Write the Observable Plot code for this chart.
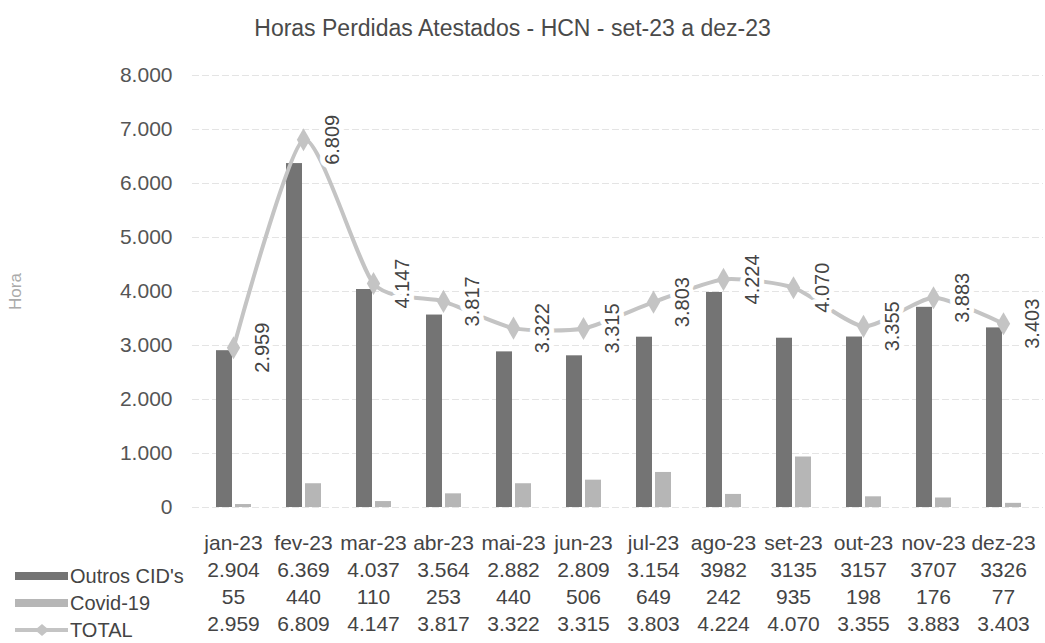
<!DOCTYPE html>
<html>
<head>
<meta charset="utf-8">
<script src="https://cdn.jsdelivr.net/npm/d3@7"></script>
<script src="https://cdn.jsdelivr.net/npm/@observablehq/plot@0.6"></script>
<style>
  html, body { margin: 0; padding: 0; background: #fff; }
  body { width: 1045px; height: 643px; overflow: hidden; font-family: "Liberation Sans", Arial, sans-serif; }
  #title { height: 55px; box-sizing: border-box; padding-top: 17px; padding-right: 20px; text-align: center;
           font-size: 23px; line-height: 1; color: #4a4a4a; }
  #chart svg { display: block; }
</style>
</head>
<body>
<div id="title">Horas Perdidas Atestados - HCN - set-23 a dez-23</div>
<div id="chart"></div>
<script>
const months = ["jan-23","fev-23","mar-23","abr-23","mai-23","jun-23","jul-23","ago-23","set-23","out-23","nov-23","dez-23"];
const outros = [2904, 6369, 4037, 3564, 2882, 2809, 3154, 3982, 3135, 3157, 3707, 3326];
const covid  = [55, 440, 110, 253, 440, 506, 649, 242, 935, 198, 176, 77];
const total  = [2959, 6809, 4147, 3817, 3322, 3315, 3803, 4224, 4070, 3355, 3883, 3403];
const outrosLabels = ["2.904","6.369","4.037","3.564","2.882","2.809","3.154","3982","3135","3157","3707","3326"];
const covidLabels  = ["55","440","110","253","440","506","649","242","935","198","176","77"];
const totalLabels  = ["2.959","6.809","4.147","3.817","3.322","3.315","3.803","4.224","4.070","3.355","3.883","3.403"];
const yTicks = [0,1000,2000,3000,4000,5000,6000,7000,8000];
const seriesNames = ["Outros CID's","Covid-19","TOTAL"];

const data = months.map((m, i) => ({
  month: m, outros: outros[i], covid: covid[i], total: total[i],
  outrosLabel: outrosLabels[i], covidLabel: covidLabels[i], totalLabel: totalLabels[i]
}));

const C_DARK = "#747474", C_LIGHT = "#b6b6b6", C_LINE = "#c4c4c4", C_TEXT = "#444";
const fmt = d3.formatLocale({decimal: ",", thousands: ".", grouping: [3], currency: ["R$", ""]}).format(",");

const legend = (index, scales, values, dims) => {
  const g = d3.create("svg:g");
  const rows = [
    {y: 521, kind: "bar", color: C_DARK},
    {y: 548, kind: "bar", color: C_LIGHT},
    {y: 575, kind: "line", color: C_LINE}
  ];
  rows.forEach((r, i) => {
    if (r.kind === "bar") {
      g.append("rect").attr("x", 15).attr("y", r.y - 4).attr("width", 53).attr("height", 8).attr("fill", r.color);
    } else {
      g.append("line").attr("x1", 15).attr("x2", 68).attr("y1", r.y).attr("y2", r.y)
        .attr("stroke", r.color).attr("stroke-width", 4);
      g.append("path").attr("d", "M35,0L42,-6L49,0L42,6Z").attr("transform", `translate(0,${r.y})`).attr("fill", r.color);
    }
    g.append("text").attr("x", 70).attr("y", r.y).attr("dy", "0.35em").attr("text-anchor", "start")
      .attr("font-size", 20).attr("fill", C_TEXT).text(seriesNames[i]);
  });
  return g.node();
};

const plot = Plot.plot({
  width: 1045,
  height: 588,
  marginTop: 20,
  marginBottom: 136,
  marginLeft: 192,
  marginRight: 2,
  style: {fontFamily: "'Liberation Sans', Arial, sans-serif", color: "#555", background: "#fff"},
  x: {domain: months, padding: 0, axis: null},
  y: {domain: [0, 8000], axis: null},
  marks: [
    Plot.ruleY(yTicks, {stroke: "#e4e4e4", strokeWidth: 1, strokeDasharray: "7,3"}),
    Plot.axisY({ticks: yTicks, tickSize: 0, tickPadding: 20, fontSize: 21, tickFormat: fmt, fill: "#555"}),
    Plot.text(["Hora"], {frameAnchor: "left", textAnchor: "middle", dx: -177, rotate: -90, fontSize: 17, fill: "#aaa"}),
    Plot.barY(data, {x: "month", y: "outros", fill: C_DARK, insetLeft: 18, insetRight: 36}),
    Plot.barY(data, {x: "month", y: "covid", fill: C_LIGHT, insetLeft: 37, insetRight: 17}),
    Plot.line(data, {x: "month", y: "total", stroke: C_LINE, strokeWidth: 4, curve: "cardinal", tension: 0.35}),
    Plot.dot(data, {x: "month", y: "total", symbol: "diamond", r: 7, fill: C_LINE}),
    Plot.text(data, {x: "month", y: "total", text: "totalLabel", rotate: -90, dx: 29, fontSize: 20,
                     fill: C_TEXT, stroke: "white", strokeWidth: 10}),
    Plot.text(data, {x: "month", text: "month", frameAnchor: "bottom", dy: 42, fontSize: 21, fill: C_TEXT}),
    Plot.text(data, {x: "month", text: "outrosLabel", frameAnchor: "bottom", dy: 69, fontSize: 21, fill: C_TEXT}),
    Plot.text(data, {x: "month", text: "covidLabel", frameAnchor: "bottom", dy: 96, fontSize: 21, fill: C_TEXT}),
    Plot.text(data, {x: "month", text: "totalLabel", frameAnchor: "bottom", dy: 123, fontSize: 21, fill: C_TEXT}),
    legend
  ]
});
document.getElementById("chart").appendChild(plot);
</script>
</body>
</html>
